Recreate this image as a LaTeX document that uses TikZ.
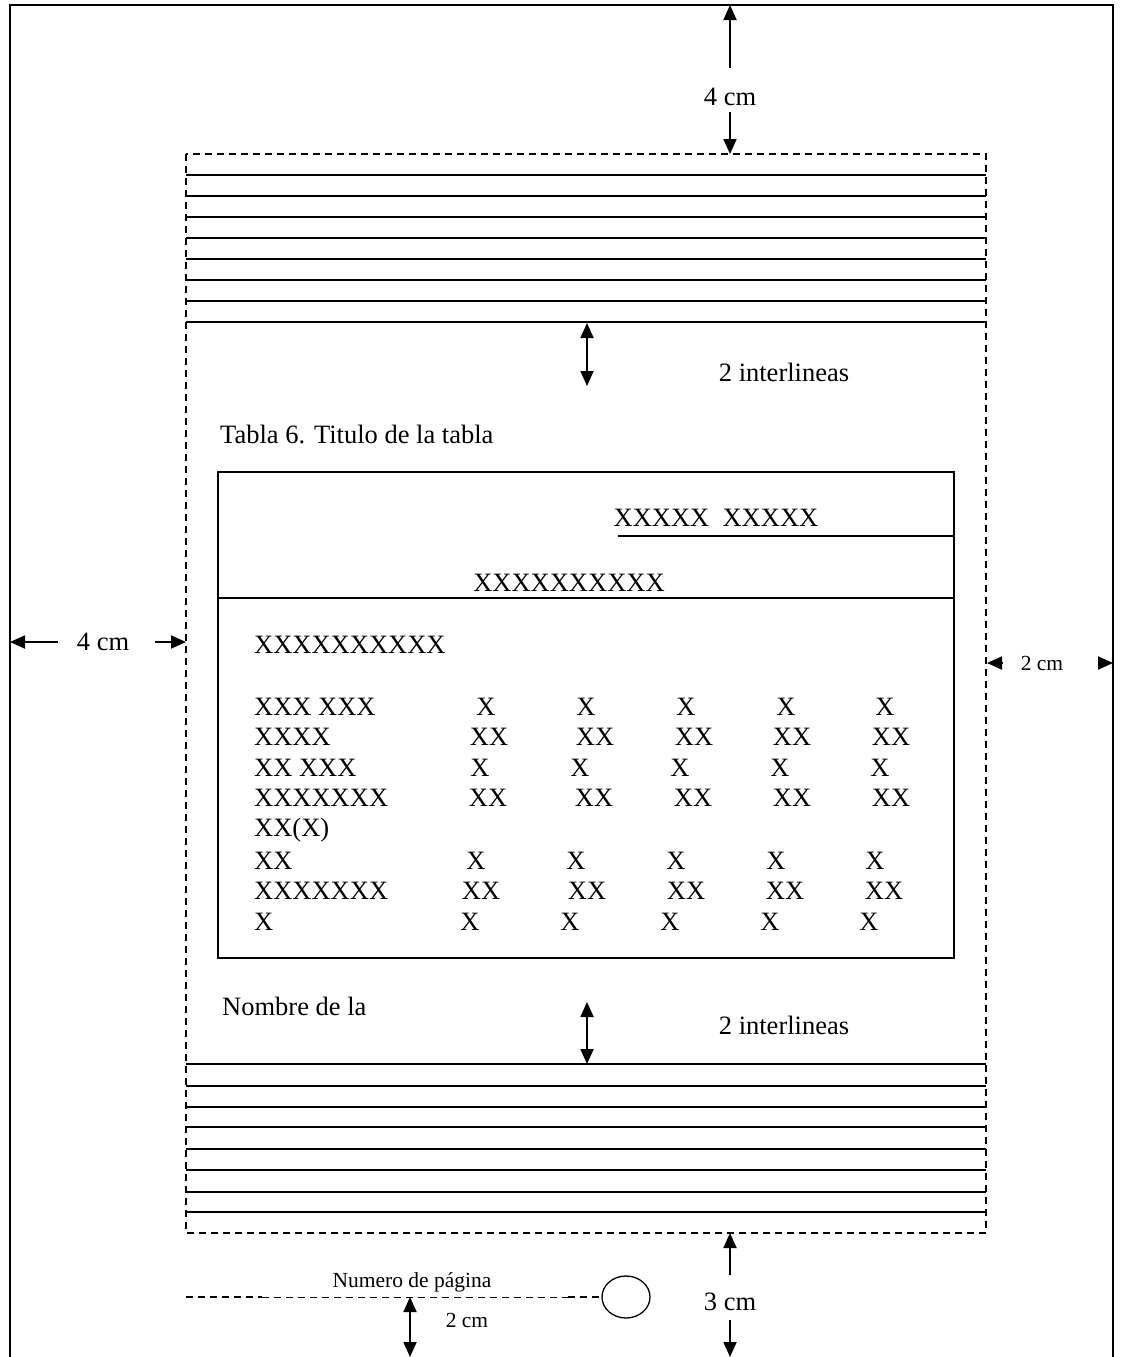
\documentclass[tikz,border=0pt]{standalone}
\usepackage{fontspec}
\setmainfont{Liberation Serif}
\usetikzlibrary{arrows.meta,shapes.geometric}
\tikzset{
  big/.style={inner sep=0pt, font=\fontsize{26.5}{30}\selectfont},
  small/.style={inner sep=0pt, font=\fontsize{21.5}{25}\selectfont},
  rule/.style={line width=1.6pt},
  dim/.style={line width=1.8pt, -{Triangle[length=15pt,width=13pt]}},
  dimboth/.style={line width=1.8pt, {Triangle[length=15pt,width=13pt]}-{Triangle[length=15pt,width=13pt]}},
  boxdash/.style={line width=1.5pt, dash pattern=on 7pt off 5pt},
}
\begin{document}
\begin{tikzpicture}[x=1pt,y=-1pt]
\useasboundingbox (0,0) rectangle (1120,1357);
% page border
\draw[line width=1.5pt] (10,1362) -- (10,5) -- (1113,5) -- (1113,1362);
% text area (dashed)
\draw[boxdash] (186,154) rectangle (986,1233);
% top lines
\foreach \yy in {175,196,217,238,259,280,301,322}
  \draw[rule] (186,\yy) -- (986,\yy);
% bottom lines
\foreach \yy in {1064,1086,1107,1127,1149,1170,1192,1212}
  \draw[rule] (186,\yy) -- (986,\yy);
% top margin
\coordinate (ptop) at (730,5);
\coordinate (btop) at (730,154);
\node[big] (t4cm) at (730,97) {4 cm};
\draw[dim] (730,68) -- (ptop);
\draw[dim] (730,112) -- (btop);
% left margin
\coordinate (pleft) at (10,642);
\coordinate (bleft) at (186,642);
\node[big] (l4cm) at (103,642) {4 cm};
\draw[dim] (58,642) -- (pleft);
\draw[dim] (155,642) -- (bleft);
% right margin
\coordinate (bright) at (987,663);
\coordinate (pright) at (1113,663);
\node[small] (r2cm) at (1042,663) {2 cm};
\draw[dim] (1002,663) -- (bright);
\draw[dim] (1099,663) -- (pright);
% 2 interlineas top
\coordinate (it1) at (587,323);
\coordinate (it2) at (587,386);
\draw[dimboth] (it1) -- (it2);
\node[big] (int1) at (784,372) {2 interlineas};
% caption
\node[big, anchor=west] (cap) at (220,434) {Tabla 6. Titulo de la tabla};
% table
\draw[rule] (218,958) -- (218,472) -- (954,472) -- (954,958) -- cycle;
\draw[rule] (618,536) -- (954,536);
\draw[line width=1.2pt] (218,598) -- (954,598);
\draw[line width=2.2pt] (218,598) -- (297,598) (810,598) -- (954,598);
\node[big] (h1) at (716,518) {XXXXX\ \ XXXXX};
\node[big] (h2) at (569,583) {XXXXXXXXXX};
\node[big, anchor=west] (h3) at (254,645) {XXXXXXXXXX};
% rows
\foreach \yy/\lab/\val/\xa/\xb/\xc/\xd/\xe [count=\i] in {
  707/XXX XXX/X/486/586/686/786/885,
  737/XXXX/XX/489/595/694/792/891,
  768/XX XXX/X/480/580/680/780/880,
  798/XXXXXXX/XX/488/594/693/792/891,
  861/XX/X/476/576/676/776/875,
  891/XXXXXXX/XX/481/587/686/785/884,
  922/X/X/470/570/670/770/869}{
  \node[big, anchor=west] (r\i) at (254,\yy) {\lab};
  \foreach \xx [count=\j] in {\xa,\xb,\xc,\xd,\xe}
    \node[big] (r\i c\j) at (\xx,\yy) {\val};
}
\node[big, anchor=west] (r5) at (254,830) {XX(X)};
% bottom
\node[big, anchor=west] (nom) at (222,1006) {Nombre de la};
\coordinate (ib1) at (587,1002);
\coordinate (ib2) at (587,1064);
\draw[dimboth] (ib1) -- (ib2);
\node[big] (int2) at (784,1025) {2 interlineas};
% bottom margin
\coordinate (bbot) at (730,1233);
\coordinate (pbot) at (730,1357);
\node[big] (b3cm) at (730,1302) {3 cm};
\draw[dim] (730,1275) -- (bbot);
\draw[dim] (730,1320) -- (pbot);
% page number
\node[draw, line width=1.3pt, ellipse, minimum width=48pt, minimum height=42pt, inner sep=0pt] (pnum) at (626,1297) {};
\coordinate (dl) at (186,1297);
\coordinate (dm) at (262,1297);
\coordinate (dk) at (568,1297);
\draw[line width=0.9pt, dash pattern=on 7pt off 5pt] (dm) -- (dk);
\draw[line width=1.5pt, dash pattern=on 7pt off 5pt] (dl) -- (dm);
\draw[line width=1.5pt, dash pattern=on 7pt off 5pt] (dk) -- (pnum.west);
\node[small] (numpag) at (412,1282) {Numero de página};
\coordinate (n1) at (410,1297);
\coordinate (n2) at (410,1357);
\draw[dimboth] (n1) -- (n2);
\node[small] (n2cm) at (467,1320) {2 cm};
\end{tikzpicture}
\end{document}
